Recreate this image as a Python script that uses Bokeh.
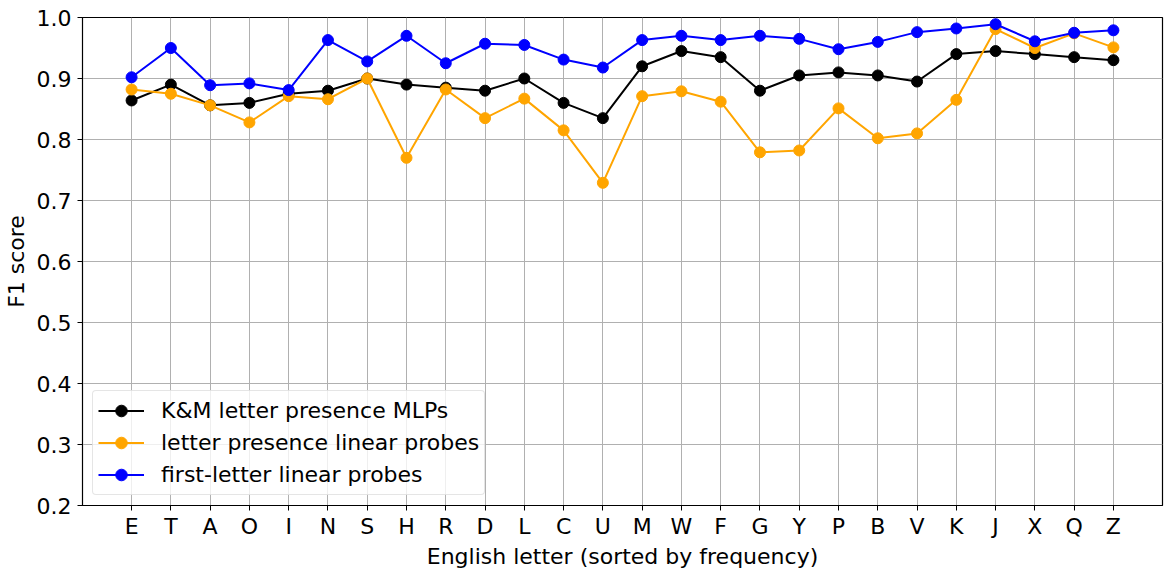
from bokeh.plotting import figure
from bokeh.models import FixedTicker, Range1d, Legend, LegendItem
from bokeh.embed import file_html
from bokeh.resources import INLINE

letters = ["E", "T", "A", "O", "I", "N", "S", "H", "R", "D", "L", "C", "U",
           "M", "W", "F", "G", "Y", "P", "B", "V", "K", "J", "X", "Q", "Z"]
km_mlp = [0.864, 0.890, 0.856, 0.860, 0.875, 0.880, 0.900, 0.890, 0.885, 0.880, 0.900, 0.860, 0.835,
          0.920, 0.945, 0.935, 0.880, 0.905, 0.910, 0.905, 0.895, 0.940, 0.945, 0.940, 0.935, 0.930]
presence_linear = [0.882, 0.875, 0.856, 0.828, 0.871, 0.866, 0.900, 0.770, 0.882, 0.835, 0.867, 0.815, 0.729,
                   0.871, 0.879, 0.862, 0.779, 0.782, 0.851, 0.802, 0.810, 0.865, 0.981, 0.950, 0.974, 0.951]
first_letter = [0.902, 0.950, 0.889, 0.892, 0.881, 0.963, 0.928, 0.970, 0.925, 0.957, 0.955, 0.931, 0.918,
                0.963, 0.970, 0.963, 0.970, 0.965, 0.948, 0.960, 0.976, 0.982, 0.989, 0.961, 0.975, 0.979]
y_ticks = [0.2, 0.3, 0.4, 0.5, 0.6, 0.7, 0.8, 0.9, 1.0]

xs = list(range(len(letters)))
FONT = "DejaVu Sans"
FS = "22px"

p = figure(width=1164, height=571, output_backend="svg", toolbar_location=None,
           x_range=Range1d(-1.25, len(letters) - 1 + 1.25), y_range=Range1d(0.2, 1.0),
           min_border_left=82, min_border_right=2, min_border_top=17, min_border_bottom=64)

p.outline_line_color = "black"
p.outline_line_width = 1.2

for ax in (p.xaxis, p.yaxis):
    ax.axis_line_color = "black"
    ax.major_tick_line_color = "black"
    ax.major_tick_out = 5
    ax.major_tick_in = 0
    ax.minor_tick_line_color = None
    ax.major_label_text_font = FONT
    ax.major_label_text_font_size = FS
    ax.major_label_text_color = "black"
    ax.axis_label_text_font = FONT
    ax.axis_label_text_font_size = FS
    ax.axis_label_text_font_style = "normal"
    ax.axis_label_text_color = "black"

p.xaxis.ticker = FixedTicker(ticks=xs)
p.xaxis.major_label_overrides = {i: l for i, l in enumerate(letters)}
p.yaxis.ticker = FixedTicker(ticks=y_ticks)
p.yaxis.major_label_overrides = {t: f"{t:.1f}" for t in y_ticks}
p.xaxis.axis_label = "English letter (sorted by frequency)"
p.yaxis.axis_label = "F1 score"
p.xaxis.major_label_standoff = 3
p.yaxis.major_label_standoff = 6
p.xaxis.axis_label_standoff = 2
p.yaxis.axis_label_standoff = 5

for g in (p.xgrid, p.ygrid):
    g.grid_line_color = "#b0b0b0"
    g.grid_line_width = 1

items = []
for vals, color, name in [(km_mlp, "black", "K&M letter presence MLPs"),
                          (presence_linear, "orange", "letter presence linear probes"),
                          (first_letter, "blue", "first-letter linear probes")]:
    l = p.line(xs, vals, line_color=color, line_width=2)
    c = p.scatter(xs, vals, size=11, fill_color=color, line_color=color)
    items.append(LegendItem(label=name, renderers=[l, c]))

legend = Legend(items=items, location="bottom_left")
legend.label_text_font = FONT
legend.label_text_font_size = FS
legend.label_text_color = "black"
legend.glyph_width = 46
legend.glyph_height = 29
legend.label_height = 29
legend.spacing = 3
legend.padding = 5
legend.margin = 10
legend.border_line_color = "#cccccc"
legend.border_line_width = 1
legend.background_fill_alpha = 0.8
legend.border_radius = 4
legend.label_standoff = 17
p.add_layout(legend, "center")

open("out.html", "w").write(file_html(p, INLINE))
